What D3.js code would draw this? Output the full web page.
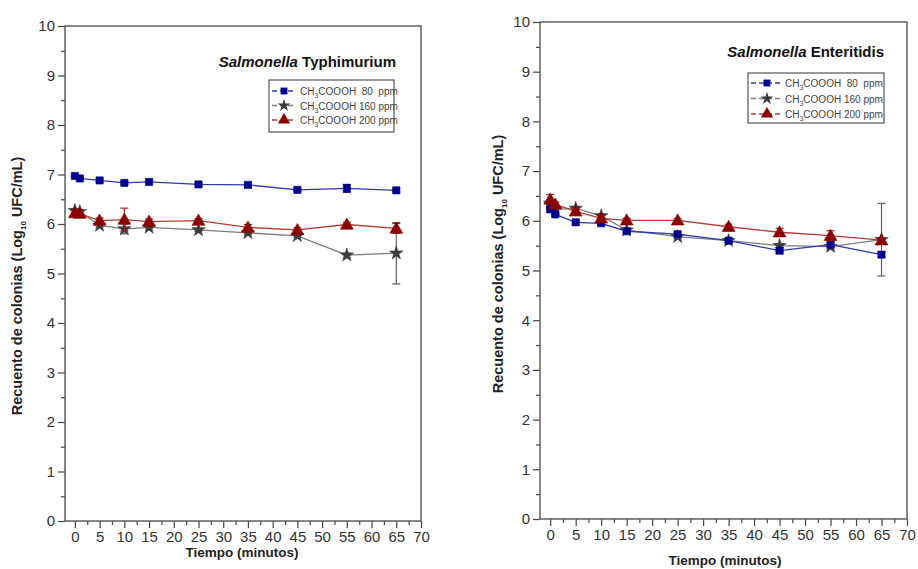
<!DOCTYPE html>
<html>
<head>
<meta charset="utf-8">
<script src="https://cdn.jsdelivr.net/npm/d3@7"></script>
<style>
  html, body { margin: 0; padding: 0; background: #fff; }
  svg { display: block; font-family: "Liberation Sans", Arial, sans-serif; }
</style>
</head>
<body>
<svg id="chart" width="918" height="569"></svg>
<script>
// ---------- DATA ----------
const times = [0, 1, 5, 10, 15, 25, 35, 45, 55, 65];
const seriesNames = ["80", "160", "200"];

// Salmonella Typhimurium
const typh80 = [6.97, 6.92, 6.88, 6.83, 6.85, 6.80, 6.79, 6.69, 6.72, 6.68];
const typh80Err = [0.02, 0.02, 0.03, 0.03, 0.02, 0.02, 0.05, 0.03, 0.08, 0.03];
const typh160 = [6.27, 6.25, 5.97, 5.90, 5.93, 5.88, 5.82, 5.76, 5.37, 5.41];
const typh160Err = [0.04, 0.03, 0.03, 0.10, 0.03, 0.03, 0.03, 0.03, 0.04, 0.62];
const typh200 = [6.22, 6.21, 6.07, 6.09, 6.05, 6.07, 5.93, 5.88, 5.99, 5.91];
const typh200Err = [0.05, 0.05, 0.05, 0.23, 0.05, 0.04, 0.06, 0.04, 0.04, 0.10];

// Salmonella Enteritidis
const ent80 = [6.23, 6.13, 5.97, 5.95, 5.79, 5.73, 5.60, 5.40, 5.52, 5.32];
const ent80Err = [0.05, 0.04, 0.04, 0.04, 0.04, 0.04, 0.04, 0.06, 0.05, 0.05];
const ent160 = [6.35, 6.23, 6.25, 6.10, 5.81, 5.68, 5.60, 5.50, 5.48, 5.62];
const ent160Err = [0.05, 0.04, 0.04, 0.04, 0.04, 0.04, 0.04, 0.04, 0.05, 0.73];
const ent200 = [6.43, 6.33, 6.19, 6.05, 6.01, 6.01, 5.88, 5.77, 5.70, 5.61];
const ent200Err = [0.10, 0.05, 0.05, 0.05, 0.04, 0.03, 0.05, 0.08, 0.10, 0.05];

const xTicks = [0, 5, 10, 15, 20, 25, 30, 35, 40, 45, 50, 55, 60, 65, 70];
const yTicks = [0, 1, 2, 3, 4, 5, 6, 7, 8, 9, 10];

// ---------- STYLES ----------
const styles = {
  "80":  { symbol: d3.symbolSquare,   size: 52, fill: "#00008b", line: "#3535b5", err: "#1a1a8a" },
  "160": { symbol: d3.symbolStar,     size: 56, fill: "#3c3c3c", line: "#7c7c7c", err: "#606060" },
  "200": { symbol: d3.symbolTriangle, size: 72, fill: "#8b0000", line: "#b83a3a", err: "#a02020" }
};
const drawOrder = ["160", "80", "200"];

const svg = d3.select("#chart");

function drawPanel(cfg) {
  const x = d3.scaleLinear().domain([-2, 70]).range([cfg.left, cfg.right]);
  const y = d3.scaleLinear().domain([0, 10]).range([cfg.bottom, cfg.top]);
  const g = svg.append("g");

  const xMinor = d3.range(2.5, 70, 5);
  const yMinor = d3.range(0.5, 10, 1);

  const xAxis = d3.axisBottom(x).tickValues(xTicks).tickSize(7).tickPadding(3).tickFormat(d3.format("d"));
  const yAxis = d3.axisLeft(y).tickValues(yTicks).tickSize(7).tickPadding(3).tickFormat(d3.format("d"));

  g.append("g").attr("transform", `translate(0,${cfg.bottom})`).call(xAxis);
  g.append("g").attr("transform", `translate(${cfg.left},0)`).call(yAxis);
  g.append("g").attr("transform", `translate(0,${cfg.bottom})`)
    .call(d3.axisBottom(x).tickValues(xMinor).tickSize(4).tickFormat(""));
  g.append("g").attr("transform", `translate(${cfg.left},0)`)
    .call(d3.axisLeft(y).tickValues(yMinor).tickSize(4).tickFormat(""));

  g.selectAll(".domain").remove();
  g.selectAll(".tick line").attr("stroke", "#444").attr("stroke-width", 1.2);
  g.selectAll(".tick text").attr("fill", "#333").style("font-size", "15px")
    .style("font-family", "'Liberation Sans', Arial, sans-serif");

  // frame
  g.append("rect")
    .attr("x", cfg.left).attr("y", cfg.top)
    .attr("width", cfg.right - cfg.left).attr("height", cfg.bottom - cfg.top)
    .attr("fill", "none").attr("stroke", "#555").attr("stroke-width", 1.4);

  // series
  drawOrder.forEach(key => {
    const st = styles[key];
    const vals = cfg.values[key], errs = cfg.errors[key];
    const pts = times.map((t, i) => ({ t, v: vals[i], e: errs[i] }));
    g.append("path").datum(pts)
      .attr("fill", "none").attr("stroke", st.line).attr("stroke-width", 1.3)
      .attr("d", d3.line().x(d => x(d.t)).y(d => y(d.v)));
    const eb = g.append("g");
    pts.forEach(d => {
      eb.append("line").attr("x1", x(d.t)).attr("x2", x(d.t))
        .attr("y1", y(d.v - d.e)).attr("y2", y(d.v + d.e))
        .attr("stroke", st.err).attr("stroke-width", 1.2);
      [d.v - d.e, d.v + d.e].forEach(v => {
        eb.append("line").attr("x1", x(d.t) - 4).attr("x2", x(d.t) + 4)
          .attr("y1", y(v)).attr("y2", y(v))
          .attr("stroke", st.err).attr("stroke-width", 1.2);
      });
    });
    g.append("g").selectAll("path").data(pts).join("path")
      .attr("transform", d => `translate(${x(d.t)},${y(d.v) + (key === "200" ? 1 : 0)})`)
      .attr("d", d3.symbol().type(st.symbol).size(st.size))
      .attr("fill", st.fill).attr("stroke", st.fill).attr("stroke-width", 0.6);
  });

  // axis titles
  const yt = g.append("text")
    .attr("transform", `translate(${cfg.yTitleX},${cfg.yTitleY}) rotate(-90)`)
    .attr("text-anchor", "middle").attr("fill", "#222")
    .style("font-size", "14.5px").style("font-weight", "bold");
  yt.append("tspan").text("Recuento de colonias (Log");
  yt.append("tspan").attr("dy", 4).style("font-size", "8px").text("10");
  yt.append("tspan").attr("dy", -4).text(" UFC/mL)");

  g.append("text").attr("x", cfg.xTitleX).attr("y", cfg.xTitleY)
    .attr("text-anchor", "middle").attr("fill", "#222")
    .style("font-size", "13.5px").style("font-weight", "bold")
    .text("Tiempo (minutos)");

  // panel title
  const tt = g.append("text").attr("x", cfg.titleX).attr("y", cfg.titleY)
    .attr("text-anchor", "end").attr("fill", "#111")
    .style("font-size", "15px").style("font-weight", "bold");
  tt.append("tspan").style("font-style", "italic").text("Salmonella");
  tt.append("tspan").text(" " + cfg.title);

  // legend
  const L = cfg.legend;
  g.append("rect").attr("x", L.x).attr("y", L.y).attr("width", L.w).attr("height", L.h)
    .attr("fill", "#fff").attr("stroke", "#555").attr("stroke-width", 1.2);
  seriesNames.forEach((key, i) => {
    const st = styles[key];
    const ry = L.y + L.firstRow + i * L.rowGap;
    g.append("line").attr("x1", L.x + 3).attr("x2", L.x + 3 + L.symW)
      .attr("y1", ry).attr("y2", ry).attr("stroke", st.line).attr("stroke-width", 1.3)
      .attr("stroke-dasharray", "5,3");
    g.append("path").attr("transform", `translate(${L.x + 3 + L.symW / 2},${ry})`)
      .attr("d", d3.symbol().type(st.symbol).size(st.size * 0.9))
      .attr("fill", st.fill);
    const tx = g.append("text").attr("x", L.x + L.textOff).attr("y", ry + 4)
      .attr("fill", "#444").style("font-size", "10px");
    tx.append("tspan").text("CH");
    tx.append("tspan").attr("dy", 3).style("font-size", "7px").text("3");
    tx.append("tspan").attr("dy", -3).text("COOOH " + (key === "80" ? "\u00a080\u00a0 " : key + " ") + "ppm");
  });
}

drawPanel({
  left: 65, right: 421, top: 26, bottom: 521,
  title: "Typhimurium", titleX: 396, titleY: 67,
  yTitleX: 22, yTitleY: 286, xTitleX: 242, xTitleY: 557,
  values: { "80": typh80, "160": typh160, "200": typh200 },
  errors: { "80": typh80Err, "160": typh160Err, "200": typh200Err },
  legend: { x: 269, y: 80, w: 125, h: 52, firstRow: 11, rowGap: 14.5, symW: 24, textOff: 31 }
});

drawPanel({
  left: 540, right: 907, top: 22, bottom: 519,
  title: "Enteritidis", titleX: 884, titleY: 57,
  yTitleX: 503, yTitleY: 264, xTitleX: 725, xTitleY: 565,
  values: { "80": ent80, "160": ent160, "200": ent200 },
  errors: { "80": ent80Err, "160": ent160Err, "200": ent200Err },
  legend: { x: 748, y: 73, w: 136, h: 50, firstRow: 10, rowGap: 15.5, symW: 32, textOff: 37 }
});
</script>
</body>
</html>
